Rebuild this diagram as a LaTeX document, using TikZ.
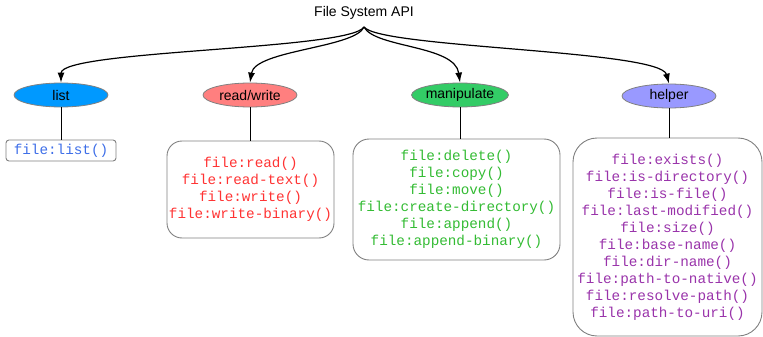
\documentclass[tikz,border=0pt]{standalone}
\usepackage{fontspec}
\setmainfont{Liberation Sans}
\newfontfamily\codefont{Liberation Mono}
\usetikzlibrary{shapes.geometric,arrows.meta}
\definecolor{clist}{HTML}{0099FF}
\definecolor{crw}{HTML}{FF7F7F}
\definecolor{cman}{HTML}{33CC66}
\definecolor{chelp}{HTML}{9999FF}
\definecolor{tlist}{HTML}{3D6EE8}
\definecolor{trw}{HTML}{FF3333}
\definecolor{tman}{HTML}{33BB33}
\definecolor{thelp}{HTML}{9933AA}
\definecolor{bordergray}{HTML}{808080}
\tikzset{
  cat/.style={ellipse, draw=bordergray, line width=0.8pt, minimum width=94pt, minimum height=24pt, inner sep=0pt, font=\fontsize{14}{16}\selectfont},
  fbox/.style={draw=bordergray, line width=0.9pt, inner sep=0pt, align=center, font=\codefont\fontsize{14.3}{17}\selectfont},
  arr/.style={-{Latex[length=10pt,width=7pt]}, line width=1.2pt, black},
  link/.style={line width=1pt, black}
}
\begin{document}
\begin{tikzpicture}[x=1pt,y=-1pt]
\useasboundingbox (0,0) rectangle (763,337);
\node[font=\fontsize{14}{16}\selectfont] (title) at (364,13) {File System API};
\coordinate (src) at (364,27);
\node[cat, fill=clist] (list) at (61,95) {list};
\node[cat, fill=crw] (rw) at (250,95) {read/write};
\node[cat, fill=cman] (man) at (460,95) {manipulate};
\node[cat, fill=chelp] (help) at (669,96) {helper};
\node[fbox, rounded corners=3pt, minimum width=110pt, minimum height=21pt, text=tlist] (listbox) at (61,150.5) {file:list()};
\node[fbox, rounded corners=15pt, minimum width=167pt, minimum height=97pt, text=trw] (rwbox) at (250.5,189.5) {file:read()\\file:read-text()\\file:write()\\file:write-binary()};
\node[fbox, rounded corners=16pt, minimum width=207pt, minimum height=121pt, text=tman] (manbox) at (456.5,199.5) {file:delete()\\file:copy()\\file:move()\\file:create-directory()\\file:append()\\file:append-binary()};
\node[fbox, rounded corners=24pt, minimum width=189pt, minimum height=198pt, text=thelp] (helpbox) at (667.5,237) {file:exists()\\file:is-directory()\\file:is-file()\\file:last-modified()\\file:size()\\file:base-name()\\file:dir-name()\\file:path-to-native()\\file:resolve-path()\\file:path-to-uri()};
\draw[arr] (src) .. controls (350,50) and (61,50) .. (list.north);
\draw[arr] (src) .. controls (355,48) and (255,50) .. (rw.north);
\draw[arr] (src) .. controls (375,48) and (455,45) .. (man.north);
\draw[arr] (src) .. controls (380,48) and (660,50) .. (help.north);
\draw[link] (list.south) -- (list.south |- listbox.north);
\draw[link] (rw.south) -- (rw.south |- rwbox.north);
\draw[link] (man.south) -- (man.south |- manbox.north);
\draw[link] (help.south) -- (help.south |- helpbox.north);
\end{tikzpicture}
\end{document}
